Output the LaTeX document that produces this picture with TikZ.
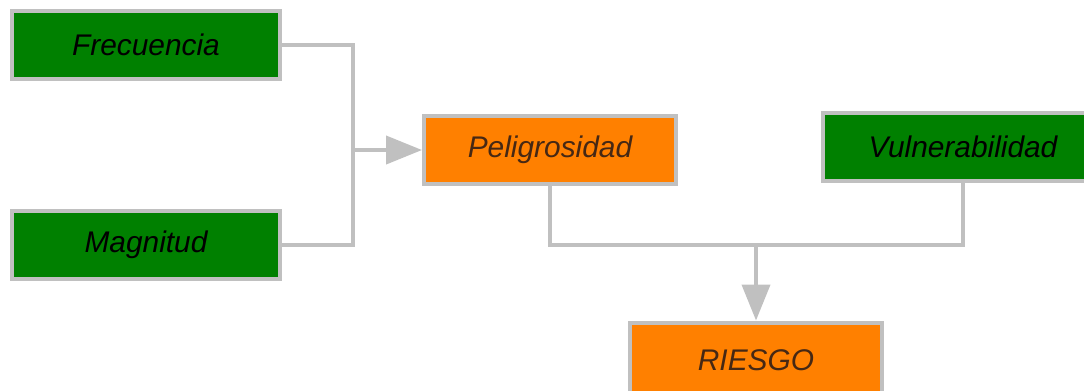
\documentclass[tikz,border=0pt]{standalone}
\usepackage{fontspec}
\setmainfont{Liberation Sans}
\usetikzlibrary{arrows.meta}

\definecolor{boxgreen}{RGB}{0,128,0}
\definecolor{boxorange}{RGB}{255,128,0}
\definecolor{edgegray}{RGB}{192,192,192}
\definecolor{inkbrown}{RGB}{70,40,20}

\tikzset{
  factor/.style={draw=edgegray, line width=0.08cm, fill=boxgreen, text=black,
    minimum width=5.36cm, minimum height=1.36cm, inner sep=0pt,
    font=\itshape\fontsize{17}{17}\selectfont},
  result/.style={factor, fill=boxorange, text=inkbrown, minimum width=5.04cm},
  link/.style={draw=edgegray, line width=0.08cm}
}

\begin{document}
\begin{tikzpicture}[x=0.02cm,y=-0.02cm,>={Triangle[length=0.72cm,width=0.56cm]}]
  \useasboundingbox (0,0) rectangle (1084,390);

  % Boxes
  \node[factor] (frec) at (146,45) {Frecuencia};
  \node[factor] (magn) at (146,245) {Magnitud};
  \node[result] (pelig) at (550,150) {Peligrosidad};
  \node[factor, minimum width=5.6cm] (vuln) at (963,147) {Vulnerabilidad};
  \node[result, minimum height=1.5cm] (riesgo) at (756,360) {RIESGO};

  % Frecuencia + Magnitud -> Peligrosidad
  \coordinate (split) at (353,150);
  \draw[link] (frec.east) -| (split) |- (magn.east);
  \draw[link,->] (split) -- (pelig.west);

  % Peligrosidad + Vulnerabilidad -> RIESGO
  \coordinate (join) at (756,245);
  \draw[link] (pelig.south) |- (join) -| (vuln.south);
  \draw[link,->] (join) -- (riesgo.north);
\end{tikzpicture}
\end{document}
